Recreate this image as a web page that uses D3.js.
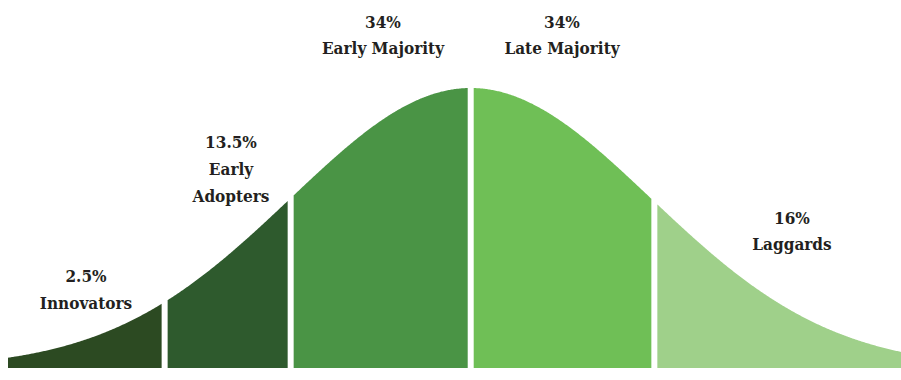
<!DOCTYPE html>
<html>
<head>
<meta charset="utf-8">
<script src="https://cdn.jsdelivr.net/npm/d3@7"></script>
<style>
  body { margin: 0; background: #fff; }
  .lbl { font-family: "DejaVu Serif Condensed", "DejaVu Serif", serif; font-weight: bold; font-size: 17px; fill: #231f20; }
</style>
</head>
<body>
<div id="chart"></div>
<script>
let width = 901;
let height = 380;

// adopter groups, share of population, and where each segment starts/ends (in std deviations)
let groups = ["Innovators", "Early Adopters", "Early Majority", "Late Majority", "Laggards"];
let shares = ["2.5%", "13.5%", "34%", "34%", "16%"];
let cuts = [-2.57, -1.7, -1, 0, 1.02, 2.39];
let colors = ["#2c4a22", "#2e5a2d", "#4a9445", "#6fbf56", "#9fd08a"];

// label lines per group
let labelLines = [
	["2.5%", "Innovators"],
	["13.5%", "Early", "Adopters"],
	["34%", "Early Majority"],
	["34%", "Late Majority"],
	["16%", "Laggards"]
];
let labelPos = [
	{ x: 86, y: 282 },
	{ x: 231, y: 148 },
	{ x: 383, y: 28 },
	{ x: 562, y: 28 },
	{ x: 792, y: 224 }
];

let pdf = (z) => Math.exp(-z * z / 2);

let x = d3.scaleLinear().domain([cuts[0], cuts[cuts.length - 1]]).range([8, 901]);
let y = d3.scaleLinear().domain([0, pdf(0)]).range([368, 88]);

let svg = d3.select("#chart")
	.append("svg")
	.attr("width", width)
	.attr("height", height);

let gap = 3; // half of white gap between segments, px

let area = d3.area()
	.x((d) => d)
	.y0(y(0))
	.y1((d) => y(pdf(x.invert(d))));

svg.selectAll(".seg")
	.data(groups)
	.enter()
	.append("path")
	.attr("class", "seg")
	.attr("fill", (d, i) => colors[i])
	.attr("d", (d, i) => {
		let x0 = x(cuts[i]) + (i === 0 ? 0 : gap);
		let x1 = x(cuts[i + 1]) - (i === groups.length - 1 ? 0 : gap);
		let xs = d3.range(x0, x1, 1).concat([x1]);
		return area(xs);
	});

let labels = svg.selectAll(".lbl")
	.data(groups)
	.enter()
	.append("text")
	.attr("class", "lbl")
	.attr("text-anchor", "middle")
	.attr("x", (d, i) => labelPos[i].x)
	.attr("y", (d, i) => labelPos[i].y);

labels.selectAll("tspan")
	.data((d, i) => labelLines[i].map((t) => ({ t, i })))
	.enter()
	.append("tspan")
	.attr("x", (d) => labelPos[d.i].x)
	.attr("dy", (d, j) => (j === 0 ? 0 : (d.i >= 2 ? 26 : 27)))
	.text((d) => d.t);
</script>
</body>
</html>
